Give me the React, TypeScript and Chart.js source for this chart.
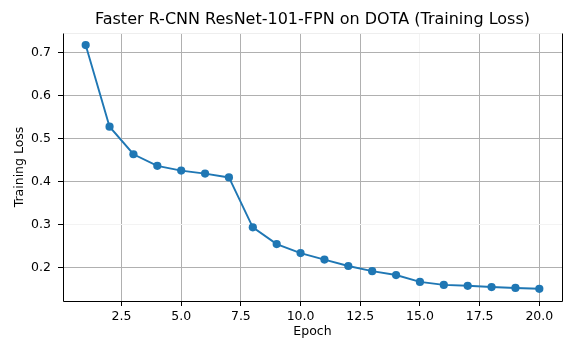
import React, { useEffect, useRef } from "react";
import { Chart, registerables } from "chart.js";

Chart.register(...registerables);

const epochs = [1, 2, 3, 4, 5, 6, 7, 8, 9, 10, 11, 12, 13, 14, 15, 16, 17, 18, 19, 20];
const trainingLoss = [0.717, 0.527, 0.463, 0.436, 0.425, 0.418, 0.409, 0.293, 0.254, 0.233, 0.218, 0.203, 0.191, 0.182, 0.166, 0.159, 0.157, 0.154, 0.152, 0.150];
const xTicks = [2.5, 5.0, 7.5, 10.0, 12.5, 15.0, 17.5, 20.0];
const yTicks = [0.2, 0.3, 0.4, 0.5, 0.6, 0.7];
const fadedX = [15.0];
const fadedY = [0.3];
const titleText = "Faster R-CNN ResNet-101-FPN on DOTA (Training Loss)";

const FONT = "'DejaVu Sans', sans-serif";

const spinePlugin = {
  id: "spines",
  afterDraw(chart: any) {
    const { ctx, chartArea } = chart;
    const { left, right, top, bottom } = chartArea;
    const l = Math.round(left) + 0.5;
    const r = Math.round(right) + 0.5;
    const t = Math.round(top) + 0.5;
    const b = Math.round(bottom) + 0.5;
    ctx.save();
    ctx.lineWidth = 1;
    ctx.strokeStyle = "#eeeeee";
    ctx.beginPath();
    ctx.moveTo(l, t);
    ctx.lineTo(r, t);
    ctx.stroke();
    ctx.strokeStyle = "#000000";
    ctx.beginPath();
    ctx.moveTo(l, t);
    ctx.lineTo(l, b);
    ctx.lineTo(r, b);
    ctx.lineTo(r, t);
    ctx.stroke();
    ctx.fillStyle = "#000000";
    ctx.font = `16px ${FONT}`;
    ctx.textAlign = "center";
    ctx.textBaseline = "middle";
    ctx.fillText(titleText, (left + right) / 2, 20);
    ctx.restore();
  },
};

export default function App() {
  const ref = useRef<HTMLCanvasElement | null>(null);
  useEffect(() => {
    document.body.style.margin = "0";
    const chart = new Chart(ref.current!, {
      type: "line",
      data: {
        datasets: [
          {
            data: epochs.map((e, i) => ({ x: e, y: trainingLoss[i] })),
            borderColor: "#1f77b4",
            backgroundColor: "#1f77b4",
            borderWidth: 1.9,
            pointRadius: 4.1,
            pointBorderWidth: 0,
            pointBackgroundColor: "#1f77b4",
            tension: 0,
          },
        ],
      },
      plugins: [spinePlugin],
      options: {
        animation: false,
        responsive: false,
        maintainAspectRatio: false,
        layout: { padding: { left: 0, right: 14, top: 33, bottom: 0 } },
        plugins: {
          legend: { display: false },
          tooltip: { enabled: false },
          title: { display: false },
        },
        scales: {
          x: {
            type: "linear",
            min: 0.05,
            max: 20.95,
            afterBuildTicks: (s: any) => {
              s.ticks = xTicks.map((v) => ({ value: v }));
            },
            afterFit: (s: any) => {
              s.height = 51;
            },
            ticks: {
              color: "#000000",
              font: { family: FONT, size: 12.5 },
              padding: 3,
              maxRotation: 0,
              callback: (v: any) => Number(v).toFixed(1),
            },
            grid: {
              color: (c: any) => (c.tick && fadedX.includes(c.tick.value) ? "#f3f3f3" : "#b0b0b0"),
              lineWidth: 1,
              tickColor: "#000000",
              tickLength: 5,
            },
            border: { display: false },
            title: {
              display: true,
              text: "Epoch",
              color: "#000000",
              font: { family: FONT, size: 12.5 },
              padding: { top: 0, bottom: 13 },
            },
          },
          y: {
            type: "linear",
            min: 0.1216,
            max: 0.745,
            afterBuildTicks: (s: any) => {
              s.ticks = yTicks.map((v) => ({ value: v }));
            },
            afterFit: (s: any) => {
              s.width = 63;
            },
            ticks: {
              color: "#000000",
              font: { family: FONT, size: 12.5 },
              padding: 7,
              callback: (v: any) => Number(v).toFixed(1),
            },
            grid: {
              color: (c: any) => (c.tick && fadedY.some((f) => Math.abs(f - c.tick.value) < 1e-6) ? "#f3f3f3" : "#b0b0b0"),
              lineWidth: 1,
              tickColor: "#000000",
              tickLength: 5,
            },
            border: { display: false },
            title: {
              display: true,
              text: "Training Loss",
              color: "#000000",
              font: { family: FONT, size: 12.5 },
              padding: { top: 12, bottom: 0 },
            },
          },
        },
      },
    });
    return () => chart.destroy();
  }, []);
  return (
    <div style={{ width: 576, height: 352 }}>
      <canvas ref={ref} width={576} height={352} style={{ display: "block", width: 576, height: 352 }} />
    </div>
  );
}
